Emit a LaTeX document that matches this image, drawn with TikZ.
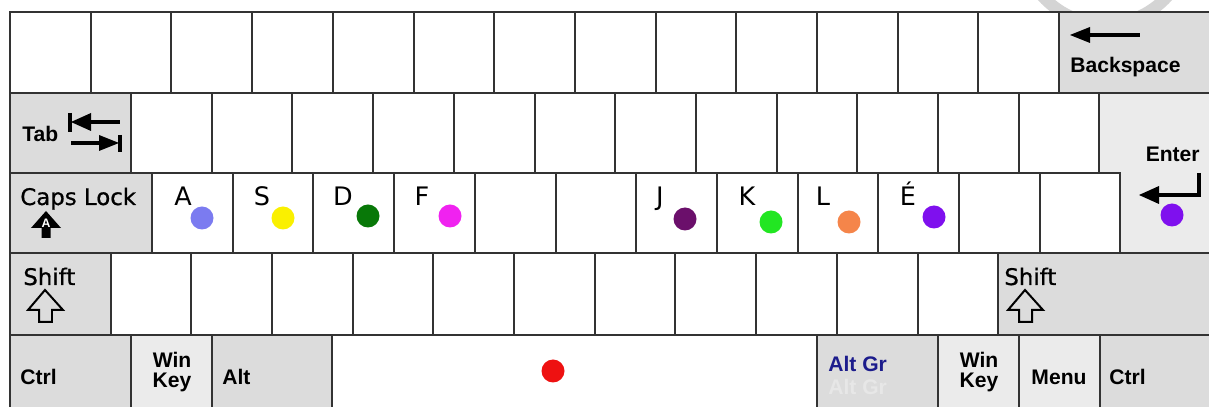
\documentclass[tikz,border=0pt]{standalone}
\usepackage{fontspec}
\setmainfont{Liberation Sans}
\newfontfamily\dejavu{DejaVu Sans}
\newfontfamily\dejavuheavy[FakeBold=0.8]{DejaVu Sans}

\definecolor{keyline}{HTML}{333333}
\definecolor{modgray}{HTML}{DCDCDC}
\definecolor{softgray}{HTML}{EBEBEB}
\definecolor{ringgray}{HTML}{D4D4D4}
\definecolor{altgrblue}{HTML}{1C1C8C}
\definecolor{dotA}{HTML}{7B7BF0}
\definecolor{dotS}{HTML}{FAF000}
\definecolor{dotD}{HTML}{087808}
\definecolor{dotF}{HTML}{F022F0}
\definecolor{dotJ}{HTML}{6B0F6B}
\definecolor{dotK}{HTML}{22E622}
\definecolor{dotL}{HTML}{F5854A}
\definecolor{dotE}{HTML}{7F10EE}
\definecolor{dotSpace}{HTML}{EE1111}

\tikzset{
  key/.style={draw=keyline, line width=0.04cm, fill=white},
  modkey/.style={key, fill=modgray},
  softkey/.style={key, fill=softgray},
  keylabel/.style={font=\fontsize{12}{11.5}\selectfont\bfseries, inner sep=0pt},
  capslabel/.style={font=\dejavuheavy\fontsize{13}{15}\selectfont, inner sep=0pt},
  letter/.style={font=\dejavu\fontsize{14.5}{17}\selectfont, inner sep=0pt, anchor=base},
  fingerdot/.style={circle, inner sep=0pt, minimum size=0.46cm},
  thickline/.style={line width=0.08cm},
}

\begin{document}
\begin{tikzpicture}
\useasboundingbox (0,0) rectangle (24.180,8.140);
\clip (0,0) rectangle (24.180,8.140);
% watermark ring behind the keys
\draw[ringgray, line width=0.24cm] (22.100,9.340) circle (1.680);
% row 1
\foreach \i in {0,...,12}
  \draw[key] ({0.200+\i*1.614},6.280) rectangle ++(1.614,1.620);
\draw[modkey] (21.182,6.280) rectangle (24.300,7.900);
% row 2
\draw[modkey] (0.200,4.680) rectangle (2.620,6.280);
\foreach \i in {0,...,11}
  \draw[key] ({2.620+\i*1.614},4.680) rectangle ++(1.614,1.600);
\draw[softkey] (21.988,6.280) -- (24.300,6.280) -- (24.300,3.080) -- (22.408,3.080)
  -- (22.408,4.680) -- (21.988,4.680) -- cycle;
% row 3
\draw[modkey] (0.200,3.080) rectangle (3.040,4.680);
\foreach \i in {0,...,11}
  \draw[key] ({3.040+\i*1.614},3.080) rectangle ++(1.614,1.600);
% row 4
\draw[modkey] (0.200,1.440) rectangle (2.210,3.080);
\foreach \i in {0,...,10}
  \draw[key] ({2.210+\i*1.614},1.440) rectangle ++(1.614,1.640);
\draw[modkey] (19.964,1.440) rectangle (24.300,3.080);
% row 5
\draw[modkey] (0.200,-0.100) rectangle (2.620,1.440);
\draw[softkey] (2.620,-0.100) rectangle (4.240,1.440);
\draw[modkey] (4.240,-0.100) rectangle (6.640,1.440);
\draw[key] (6.640,-0.100) rectangle (16.340,1.440);
\draw[modkey] (16.340,-0.100) rectangle (18.760,1.440);
\draw[softkey] (18.760,-0.100) rectangle (20.380,1.440);
\draw[softkey] (20.380,-0.100) rectangle (22.000,1.440);
\draw[modkey] (22.000,-0.100) rectangle (24.300,1.440);

% labels
\node[keylabel, anchor=base west] (backspace) at (21.400,6.680) {Backspace};
\node[keylabel, anchor=west] (tab) at (0.440,5.460) {Tab};
\node[keylabel, anchor=base east] (enter) at (24.000,4.900) {Enter};
\node[capslabel, anchor=base west] (capslock) at (0.400,4.040) {Caps Lock};
\node[capslabel, anchor=base west] (lshift) at (0.460,2.440) {Shift};
\node[capslabel, anchor=base west] (rshift) at (20.080,2.440) {Shift};
\node[keylabel, anchor=west] (lctrl) at (0.400,0.600) {Ctrl};
\node[keylabel, align=center] (lwin) at (3.440,0.700) {Win\\Key};
\node[keylabel, anchor=west] (lalt) at (4.440,0.600) {Alt};
\node[keylabel, anchor=base west, text=altgrblue] (altgr) at (16.560,0.700) {Alt Gr};
\node[keylabel, anchor=base west, text=white!30!modgray] (altgrghost) at (16.560,0.240) {Alt Gr};
\node[keylabel, align=center] (rwin) at (19.580,0.700) {Win\\Key};
\node[keylabel] (menu) at (21.180,0.600) {Menu};
\node[keylabel, anchor=west] (rctrl) at (22.180,0.600) {Ctrl};

% backspace arrow
\draw[thickline] (21.700,7.440) -- (22.800,7.440);
\fill (21.400,7.440) -- (21.800,7.600) -- (21.800,7.280) -- cycle;
% tab arrows
\draw[thickline] (1.400,5.880) -- (1.400,5.500);
\draw[thickline] (1.700,5.700) -- (2.400,5.700);
\fill (1.420,5.700) -- (1.820,5.880) -- (1.820,5.520) -- cycle;
\draw[thickline] (2.400,5.440) -- (2.400,5.100);
\draw[thickline] (1.420,5.280) -- (2.100,5.280);
\fill (2.380,5.280) -- (1.980,5.440) -- (1.980,5.120) -- cycle;
% enter arrow
\draw[thickline] (23.980,4.680) -- (23.980,4.240) -- (23.100,4.240);
\fill (22.780,4.240) -- (23.180,4.420) -- (23.180,4.060) -- cycle;
% caps lock arrow
\fill (0.920,3.920) -- (1.220,3.580) -- (1.010,3.580) -- (1.010,3.380) -- (0.830,3.380)
  -- (0.830,3.580) -- (0.620,3.580) -- cycle;
\node[font=\fontsize{7}{7}\selectfont\bfseries, text=white, inner sep=0pt] (capsA) at (0.920,3.670) {A};
% shift arrows
\draw[line width=0.04cm] (0.900,2.340) -- (1.260,1.940) -- (1.040,1.940) -- (1.040,1.700)
  -- (0.780,1.700) -- (0.780,1.940) -- (0.560,1.940) -- cycle;
\draw[line width=0.04cm] (20.500,2.340) -- (20.860,1.940) -- (20.640,1.940) -- (20.640,1.700)
  -- (20.380,1.700) -- (20.380,1.940) -- (20.160,1.940) -- cycle;

% home row letters and finger dots
\node[letter] (keyA) at (3.660,4.020) {A};
\node[letter] (keyS) at (5.240,4.020) {S};
\node[letter] (keyD) at (6.860,4.020) {D};
\node[letter] (keyF) at (8.440,4.020) {F};
\node[letter] (keyJ) at (13.200,4.020) {J};
\node[letter] (keyK) at (14.940,4.020) {K};
\node[letter] (keyL) at (16.460,4.020) {L};
\node[letter] (keyE) at (18.160,4.020) {É};
\node[fingerdot, fill=dotA] (dotA) at (4.040,3.780) {};
\node[fingerdot, fill=dotS] (dotS) at (5.660,3.780) {};
\node[fingerdot, fill=dotD] (dotD) at (7.360,3.820) {};
\node[fingerdot, fill=dotF] (dotF) at (9.000,3.820) {};
\node[fingerdot, fill=dotJ] (dotJ) at (13.700,3.760) {};
\node[fingerdot, fill=dotK] (dotK) at (15.420,3.700) {};
\node[fingerdot, fill=dotL] (dotL) at (16.980,3.700) {};
\node[fingerdot, fill=dotE] (dotE) at (18.680,3.800) {};
\node[fingerdot, fill=dotE] (dotEnter) at (23.440,3.840) {};
\node[fingerdot, fill=dotSpace] (dotSpace) at (11.060,0.720) {};
\end{tikzpicture}
\end{document}
